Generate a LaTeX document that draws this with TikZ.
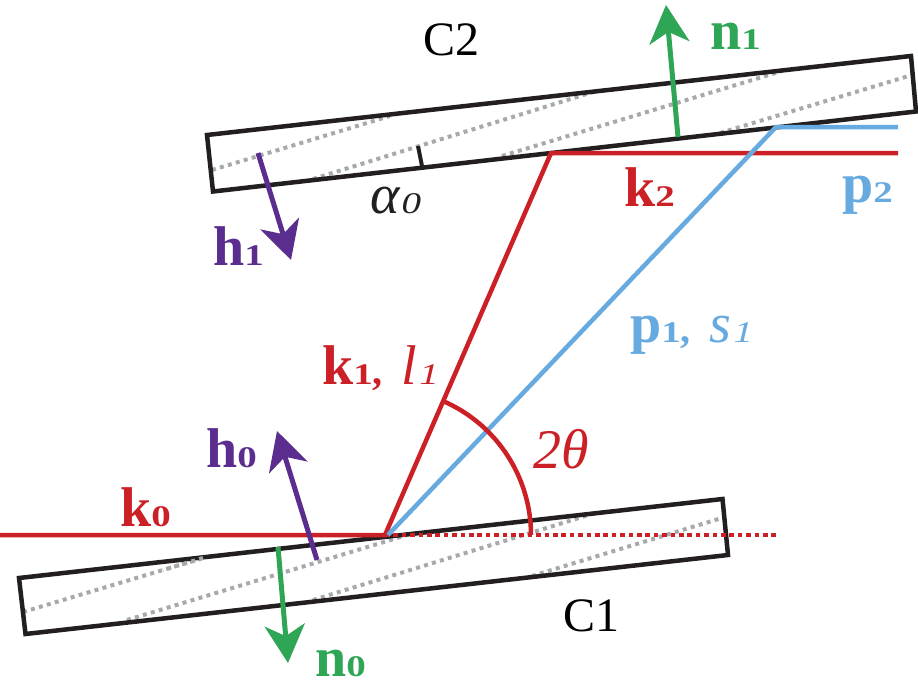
\documentclass[tikz,border=0pt]{standalone}
\usepackage{fontspec}
\usepackage{tikz}
\usetikzlibrary{arrows.meta}
\setmainfont{Liberation Serif}
\definecolor{beamred}{RGB}{204,32,39}
\definecolor{beamblue}{RGB}{102,170,224}
\definecolor{normgreen}{RGB}{47,165,86}
\definecolor{planepurple}{RGB}{90,45,143}
\definecolor{plangrey}{RGB}{167,169,172}
\definecolor{crystal}{RGB}{35,31,32}
\newcommand{\smallnum}[1]{{\fontsize{30}{30}\selectfont\scalebox{1.3}[1]{#1}}}
\newcommand{\bvec}[2]{\textbf{#1\smallnum{#2}}}
\newcommand{\ivar}[2]{\textit{#1\hspace{2pt}\smallnum{#2}}}
\newcommand{\lsep}{\textbf{\fontsize{40}{40}\selectfont ,}\hspace{19pt}}

\begin{document}
\begin{tikzpicture}[x=1pt, y=-1pt,
    main/.style = {inner sep=0pt, anchor=base west, font=\fontsize{56}{56}\selectfont},
    plain/.style = {inner sep=0pt, anchor=base west, font=\fontsize{48}{48}\selectfont},
    slab/.style = {draw=crystal, line width=4.5pt, line join=miter},
    plane/.style = {draw=plangrey, line width=4pt, dash pattern=on 4pt off 4.3pt},
    beam/.style = {line width=4.5pt},
    vect/.style = {line width=5pt, -{Stealth[length=38pt, width=40pt, inset=11pt]}}]
\useasboundingbox (0,0) rectangle (918,696);
% first crystal
\coordinate (a1) at (19,578);
\coordinate (a2) at (25.5,634);
\coordinate (a3) at (728,555);
\coordinate (a4) at (722.5,499);
% second crystal
\coordinate (b1) at (207,135);
\coordinate (b2) at (213,191.5);
\coordinate (b3) at (916,111.5);
\coordinate (b4) at (911,56);
% reflecting planes
\coordinate (q1) at (23,612);
\coordinate (q2) at (203,558);
\coordinate (q3) at (127,620);
\coordinate (q4) at (407,535);
\coordinate (q5) at (313,600);
\coordinate (q6) at (595,513);
\coordinate (q7) at (532,576);
\coordinate (q8) at (725,517);
\coordinate (r1) at (212,170);
\coordinate (r2) at (390,116);
\coordinate (r3) at (313,179);
\coordinate (r4) at (593,92);
\coordinate (r5) at (502,156);
\coordinate (r6) at (782,71);
\coordinate (r7) at (720,133);
\coordinate (r8) at (912,75);
% beam path
\coordinate (in) at (0,535);
\coordinate (hit) at (385,535);
\coordinate (straight) at (776,535);
\coordinate (top) at (551,153);
\coordinate (out) at (898,153);
\coordinate (hitb) at (388,535);
\coordinate (topb) at (776,127);
\coordinate (outb) at (898,127);
\coordinate (arcs) at (531,535);
\coordinate (tick1) at (418,146);
\coordinate (tick2) at (422,166);
% arrows
\coordinate (h0a) at (317,560);
\coordinate (h0b) at (277,431);
\coordinate (n0a) at (278,547);
\coordinate (n0b) at (288,663);
\coordinate (h1a) at (258,153);
\coordinate (h1b) at (291,260);
\coordinate (n1a) at (678,137);
\coordinate (n1b) at (666,5);

\draw[plane] (q1) -- (q2);
\draw[plane] (q3) -- (q4);
\draw[plane] (q5) -- (q6);
\draw[plane] (q7) -- (q8);
\draw[plane] (r1) -- (r2);
\draw[plane] (r3) -- (r4);
\draw[plane] (r5) -- (r6);
\draw[plane] (r7) -- (r8);
\draw[slab] (a1) -- (a2) -- (a3) -- (a4) -- cycle;
\draw[slab] (b1) -- (b2) -- (b3) -- (b4) -- cycle;
\draw[plane] (q2) -- ++(-40,12);
\draw[crystal, line width=4pt] (tick1) -- (tick2);
\draw[beam, beamred] (in) -- (hit) -- (top) -- (out);
\draw[beamred, line width=3.5pt, dash pattern=on 4.5pt off 3.9pt] (hit) -- (straight);
\draw[beam, beamblue] (hitb) -- (topb) -- (outb);
\draw[beam, beamred] (arcs) arc[start angle=0, end angle=-66.5, radius=146];
\draw[vect, planepurple] (h0a) -- (h0b);
\draw[vect, normgreen] (n0a) -- (n0b);
\draw[vect, planepurple] (h1a) -- (h1b);
\draw[vect, normgreen] (n1a) -- (n1b);

\node[main, beamred] (k0) at (120,526) {\bvec{k}{0}};
\node[main, planepurple] (h0) at (206,467) {\bvec{h}{0}};
\node[main, normgreen] (n0) at (315,676) {\bvec{n}{0}};
\node[main, planepurple] (h1) at (213,265) {\bvec{h}{1}};
\node[main, normgreen] (n1) at (710,49) {\bvec{n}{1}};
\node[main, beamred] (k2) at (624,206) {\bvec{k}{2}};
\node[main, beamblue] (p2) at (842,202) {\bvec{p}{2}};
\node[main, beamblue] (p1) at (630,342) {\bvec{p}{1}\lsep\ivar{s}{1}};
\node[main, beamred] (k1) at (322,384) {\bvec{k}{1}\lsep\ivar{l}{1}};
\node[plain] (c2) at (423,55) {C2};
\node[plain] (c1) at (563,631) {C1};
\node[main, crystal] (alpha) at (370,213) {\ivar{α}{0}};
\node[main, beamred] (angle) at (533,468) {\textit{2θ}};
\end{tikzpicture}
\end{document}
